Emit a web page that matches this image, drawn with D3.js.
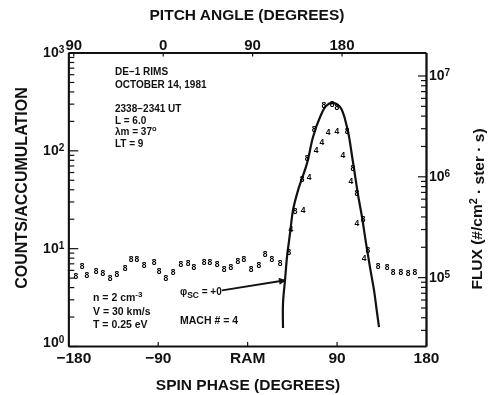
<!DOCTYPE html>
<html><head><meta charset="utf-8">
<script src="https://cdn.jsdelivr.net/npm/d3@7"></script>
<style>
body{margin:0;background:#fff}
#wrap{will-change:transform;width:488px;height:395px}
text{font-family:"Liberation Sans",Arial,Helvetica,sans-serif;font-weight:bold;fill:#111}
</style>
</head><body><div id="wrap"><svg id="c" width="488" height="395"></svg></div>
<script>
// ---- data ----
const spin8 = [-172.3,-166.2,-161.2,-152.1,-145.1,-138.0,-131.0,-122.9,-116.9,-110.9,-103.8,-93.7,-88.7,-81.7,-74.6,-66.6,-59.5,-53.5,-43.4,-37.4,-30.3,-23.3,-16.3,-9.3,-3.2,3.9,11.9,18.0,25.0,33.1,42.1,48.2,55.3,60.3,67.3,77.3,85.4,90.4,100.5,106.5,110.5,116.6,121.6,131.7,140.8,146.8,154.8,161.9,168.9];
const counts8 = [5.2,6.6,5.3,5.8,5.6,5.0,5.4,6.3,7.7,7.7,6.7,7.2,5.8,5.0,5.7,6.9,7.1,6.4,7.2,7.2,6.9,6.1,6.4,7.4,7.7,6.1,6.7,8.7,7.7,7.1,9.1,24,51,84,165,291,298,277,158,66,37,20,9.6,6.6,6.4,5.7,5.7,5.6,5.7];
const spin4 = [44.1,56.3,62.3,69.3,75.3,81.4,90.4,96.4,104.5,110.5,117.6];
const counts4 = [15.7,24.5,53,101,122,154,158,90,49,18,7.9];
const fitSpin = [36.1,36.1,38.1,40.1,43.2,46.2,51.2,60.3,66.3,73.4,79.4,85.4,93.5,100.5,106.5,111.6,115.6,119.6,123.6,127.7,130.7,132.7];
const fitCounts = [1.53,2.75,4.7,8.1,14.3,24.6,39,74,137,219,284,305,277,173,76,35,20.8,11.3,6.4,3.7,2.2,1.56];
const spinTicks = [-180,-90,0,90,180];
const spinLabels = ["\u2212180","\u221290","RAM","90","180"];
const pitchTicks = [-90,0,90,180];       // unfolded pitch angle
const pitchLabels = ["90","0","90","180"];
const countDecades = [1,10,100,1000];
const fluxDecades = [1e5,1e6,1e7];

// ---- layout ----
const L = 68.3, R = 426, T = 52.5, B = 346;
const svg = d3.select("#c");

const x = d3.scaleLinear().domain([-180,180]).range([L,R]);
const xp = d3.scaleLinear().domain([-95,265]).range([L,R]);
const y = d3.scaleLog().domain([1,1000]).range([B,T]);
const yf = d3.scaleLog().domain([Math.pow(10,4.317),Math.pow(10,7.228)]).range([B,T]);

const minorOf = (sc) => {
  const [a,b] = sc.domain(); const out=[];
  for (let e=Math.floor(Math.log10(a)); e<=Math.ceil(Math.log10(b)); e++)
    for (let k=2;k<=9;k++){const v=k*Math.pow(10,e); if(v>a&&v<b) out.push(v);}
  return out;
};
const supLabel = (g, fs) => g.selectAll(".tick text").each(function(d){
  const t=d3.select(this); const e=Math.round(Math.log10(d));
  t.text(null).style("font-size",fs+"px");
  t.append("tspan").text("10");
  t.append("tspan").attr("dy","-0.45em").style("font-size",(fs*0.72)+"px").text(e);
});
const styleAxis = g => { g.select(".domain").attr("stroke","#111").attr("stroke-width",1.8);
  g.selectAll(".tick line").attr("stroke","#111").attr("stroke-width",1.2); };

// left axis
svg.append("g").attr("transform",`translate(${L},0)`)
  .call(d3.axisLeft(y).tickValues(minorOf(y)).tickSize(-6).tickSizeOuter(0).tickFormat(""))
  .call(styleAxis);
svg.append("g").attr("transform",`translate(${L},0)`)
  .call(d3.axisLeft(y).tickValues(countDecades).tickSize(-10).tickSizeOuter(0).tickPadding(4))
  .call(styleAxis).call(g=>supLabel(g,14))
  .call(g=>g.selectAll(".tick text").filter(d=>d===1).attr("dy","0.05em"));

// right axis
svg.append("g").attr("transform",`translate(${R},0)`)
  .call(d3.axisRight(yf).tickValues(minorOf(yf)).tickSize(-5).tickSizeOuter(0).tickFormat(""))
  .call(styleAxis);
svg.append("g").attr("transform",`translate(${R},0)`)
  .call(d3.axisRight(yf).tickValues(fluxDecades).tickSize(-8).tickSizeOuter(0).tickPadding(3))
  .call(styleAxis).call(g=>supLabel(g,14));

// bottom axis
svg.append("g").attr("transform",`translate(0,${B})`)
  .call(d3.axisBottom(x).tickValues(spinTicks).tickSize(-4).tickSizeOuter(0).tickPadding(6)
    .tickFormat((d,i)=>spinLabels[i]))
  .call(styleAxis).call(g=>g.selectAll(".tick text").style("font-size","15.5px"))
  .call(g=>g.selectAll(".tick text").filter(d=>d===-180).attr("dx","5"));

// top axis
svg.append("g").attr("transform",`translate(0,${T})`)
  .call(d3.axisTop(xp).tickValues(pitchTicks).tickSize(-4).tickSizeOuter(0).tickPadding(3)
    .tickFormat((d,i)=>pitchLabels[i]))
  .call(styleAxis).call(g=>g.selectAll(".tick text").style("font-size","15px"));
svg.selectAll(".tick text").attr("fill","#111");
svg.selectAll("g").attr("font-family",null);

// titles
svg.append("text").attr("x",247).attr("y",20).attr("text-anchor","middle").style("font-size","15.5px").text("PITCH ANGLE (DEGREES)");
svg.append("text").attr("x",248).attr("y",390).attr("text-anchor","middle").style("font-size","15.5px").text("SPIN PHASE (DEGREES)");
svg.append("text").attr("transform","translate(27,188) rotate(-90)").attr("text-anchor","middle").style("font-size","16px").text("COUNTS/ACCUMULATION");
const rt = svg.append("text").attr("transform","translate(482,209) rotate(-90)").attr("text-anchor","middle").style("font-size","15.5px");
rt.append("tspan").text("FLUX (#/cm");
rt.append("tspan").attr("dy","-0.45em").style("font-size","11px").text("2");
rt.append("tspan").attr("dy","0.45em").text(" \u00b7 ster \u00b7 s)");

// fit curve
const fit = fitSpin.map((s,i)=>[s,fitCounts[i]]);
svg.append("path").datum(fit)
  .attr("d", d3.line().x(d=>x(d[0])).y(d=>y(d[1])).curve(d3.curveCatmullRom.alpha(0.5)))
  .attr("fill","none").attr("stroke","#111").attr("stroke-width",2.2);

// markers
const mk = (sp, ct, ch) => svg.append("g").selectAll("text").data(sp.map((s,i)=>[s,ct[i]])).join("text")
  .attr("x",d=>x(d[0])).attr("y",d=>y(d[1])).attr("dy","0.35em").attr("text-anchor","middle")
  .style("font-size","8.5px").style("fill","#000").text(ch);
mk(spin8, counts8, "8");
mk(spin4, counts4, "4");

// annotations
const ann = (xx, yy, fs, parts) => { const t = svg.append("text").attr("x",xx).attr("y",yy).style("font-size",fs+"px");
  parts.forEach(p => { const ts=t.append("tspan").text(p[0]); if(p[1]) ts.attr("dy",p[1]); if(p[2]) ts.style("font-size",p[2]+"px"); }); };
ann(115,75,10,[["DE\u22121 RIMS"]]);
ann(115,88,10,[["OCTOBER 14, 1981"]]);
ann(115,112,10,[["2338\u22122341 UT"]]);
ann(115,123.5,10,[["L = 6.0"]]);
ann(115,135,10,[["\u03bbm = 37"],["o","-4",7.5]]);
ann(115,146.5,10,[["LT = 9"]]);
ann(93,301,10.5,[["n = 2 cm"],["-3","-4",8]]);
ann(93,314.5,10.5,[["V = 30 km/s"]]);
ann(93,327.5,10.5,[["T = 0.25 eV"]]);
ann(180,324,10.5,[["MACH # = 4"]]);
ann(180,295,10,[["\u03c6"],["SC","3",8.5],[" = +0","-3"]]);

// arrow
const defs = svg.append("defs");
defs.append("marker").attr("id","ah").attr("viewBox","0 0 10 10").attr("refX",9).attr("refY",5)
  .attr("markerWidth",5).attr("markerHeight",4).attr("orient","auto").attr("markerUnits","strokeWidth")
  .append("path").attr("d","M0,0 L10,5 L0,10 Z").attr("fill","#111");
svg.append("line").attr("x1",x(-25.3)).attr("y1",y(3.7)).attr("x2",x(38.6)).attr("y2",y(4.7))
  .attr("stroke","#111").attr("stroke-width",1.8).attr("marker-end","url(#ah)");
</script></body></html>
